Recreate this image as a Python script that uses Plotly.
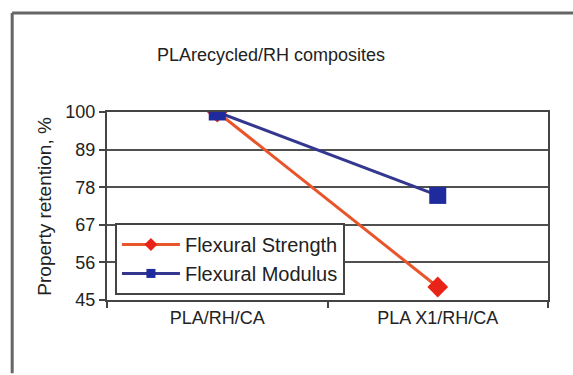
import plotly.graph_objects as go

categories = ["PLA/RH/CA", "PLA X1/RH/CA"]
flexural_strength = [100, 48.8]
flexural_modulus = [100, 75.6]
y_ticks = [45, 56, 67, 78, 89, 100]

strength_line = "#E8552B"
strength_marker = "#E82418"
modulus_line = "#34378F"
modulus_marker = "#1F2A9C"

fig = go.Figure()
fig.add_trace(go.Scatter(
    x=categories, y=flexural_strength, name="Flexural Strength",
    mode="lines+markers", showlegend=False,
    line=dict(color=strength_line, width=3),
    marker=dict(symbol="diamond", size=16, color=strength_marker),
))
fig.add_trace(go.Scatter(
    x=categories, y=flexural_modulus, name="Flexural Modulus",
    mode="lines+markers", showlegend=False,
    line=dict(color=modulus_line, width=3),
    marker=dict(symbol="square", size=17, color=modulus_marker),
))
# legend entries with small markers, as in the reference legend
fig.add_trace(go.Scatter(
    x=[None], y=[None], name="Flexural Strength", mode="lines+markers",
    line=dict(color=strength_line, width=3),
    marker=dict(symbol="diamond", size=10, color=strength_marker),
))
fig.add_trace(go.Scatter(
    x=[None], y=[None], name="Flexural Modulus", mode="lines+markers",
    line=dict(color=modulus_line, width=3),
    marker=dict(symbol="square", size=9, color=modulus_marker),
))

fig.update_layout(
    width=573, height=375,
    margin=dict(l=107, r=25, t=112, b=75),
    paper_bgcolor="#FFFFFF", plot_bgcolor="#FFFFFF",
    font=dict(family="Liberation Sans, Arial, sans-serif", color="#222222", size=18),
    showlegend=True,
    legend=dict(
        x=0.018, y=0.41, xanchor="left", yanchor="top",
        bgcolor="#FFFFFF", bordercolor="#444444", borderwidth=2,
        font=dict(size=20, color="#222222"),
        itemwidth=58, tracegroupgap=0,
    ),
    annotations=[
        dict(text="PLArecycled/RH composites", xref="paper", yref="paper",
             x=0.372, y=1.367, showarrow=False, font=dict(size=18, color="#222222")),
        dict(text="Property retention, %", xref="paper", yref="paper",
             x=-0.172, y=0.5, textangle=-90, showarrow=False,
             font=dict(size=19, color="#222222")),
    ],
    shapes=[
        dict(type="line", xref="paper", yref="paper", x0=-0.215, x1=1.1, y0=1.527, y1=1.527,
             line=dict(color="#666666", width=3)),
        dict(type="line", xref="paper", yref="paper", x0=-0.215, x1=-0.215, y0=1.527, y1=-0.39,
             line=dict(color="#666666", width=3)),
    ],
)

fig.update_xaxes(
    type="category", range=[-0.5, 1.5],
    showline=True, linecolor="#444444", linewidth=2, mirror=True,
    ticks="outside", ticklen=6, tickcolor="#444444", tickwidth=2,
    tickson="boundaries", showgrid=False,
    tickfont=dict(size=18, color="#222222"),
)
fig.update_yaxes(
    range=[45, 100], tickvals=y_ticks,
    showline=True, linecolor="#444444", linewidth=2, mirror=True,
    ticks="outside", ticklen=6, tickcolor="#444444", tickwidth=2,
    showgrid=True, gridcolor="#505050", gridwidth=2,
    tickfont=dict(size=18, color="#222222"),
    zeroline=False,
)

fig.write_html("out.html", config={"displayModeBar": False},
               post_script="document.body.style.margin='0';")
